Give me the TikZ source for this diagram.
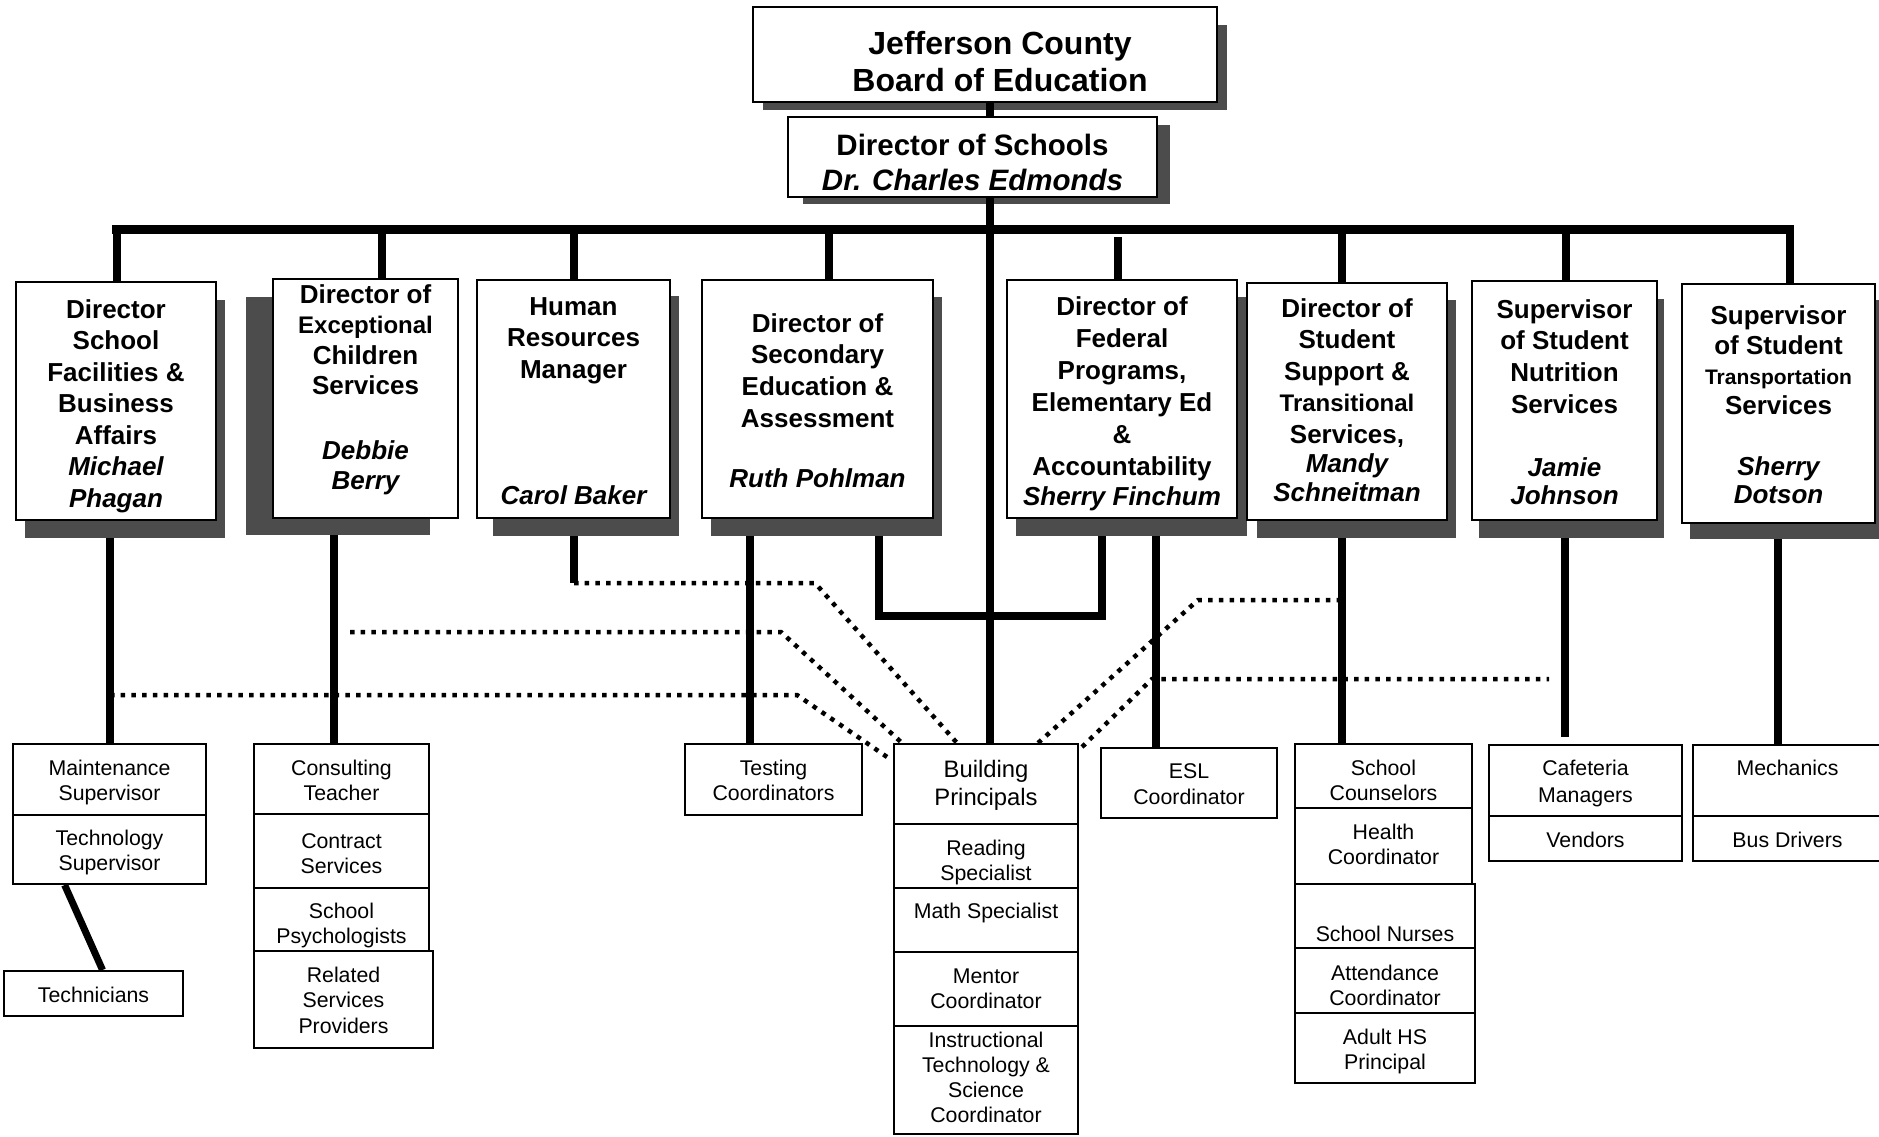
\documentclass[tikz,border=0pt]{standalone}
\usepackage{fontspec}
\setmainfont{Liberation Sans}
\usetikzlibrary{calc,fit}
\pgfdeclarelayer{back}
\pgfdeclarelayer{shade}
\pgfdeclarelayer{lines}
\pgfsetlayers{back,shade,lines,main}

\newcommand{\mlines}[1]{\vtop{\lineskiplimit=-100pt\relax\let\\\cr\halign{\hfil##\hfil\cr#1\crcr}}}
\newcommand{\fsz}[2]{\fontsize{#1}{#2}\selectfont}
\newcommand{\ebox}[5]{\node[box, fit={(#2,#3) (#4,#5)}] (#1) {};}

\tikzset{
  box/.style={draw=black, line width=2pt, fill=white, inner sep=0pt, rectangle},
  txt/.style={inner sep=0pt, anchor=base},
  conn/.style={line width=7.5pt},
  barline/.style={line width=8.5pt},
  dots/.style={line width=4.5pt, dash pattern=on 4.5pt off 6.2pt},
  shadowc/.style={fill=black!70},
  bot/.style={txt, font=\fsz{21.3}{25}},
}

\begin{document}
\begin{tikzpicture}[x=1pt,y=-1pt]
\begin{pgfonlayer}{back}
\fill[white] (0,0) rectangle (1879,1136);
\end{pgfonlayer}
\useasboundingbox (0,0) rectangle (1879,1136);

% ---------- shadows ----------
\begin{pgfonlayer}{shade}
\fill[shadowc] (763,25) rectangle (1227,110);
\fill[shadowc] (803,125) rectangle (1170,204);
\fill[shadowc] (25,300) rectangle (225,538);
\fill[shadowc] (246,297) rectangle (430,535);
\fill[shadowc] (493,296) rectangle (679,536);
\fill[shadowc] (711,297) rectangle (942,536);
\fill[shadowc] (1016,297) rectangle (1247,536);
\fill[shadowc] (1257,300) rectangle (1456,538);
\fill[shadowc] (1479,299) rectangle (1664,538);
\fill[shadowc] (1690,300) rectangle (1882,539);
\end{pgfonlayer}

% ---------- boxes ----------
\ebox{board}{753}{7}{1217}{102}
\ebox{dir}{788}{117}{1157}{197}
\ebox{b1}{16}{282}{216}{520}
\ebox{b2}{273}{279}{458}{518}
\ebox{b3}{477}{280}{670}{518}
\ebox{b4}{702}{280}{933}{518}
\ebox{b5}{1007}{280}{1237}{518}
\ebox{b6}{1247}{283}{1447}{520}
\ebox{b7}{1472}{281}{1657}{520}
\ebox{b8}{1682}{284}{1875}{523}

\ebox{mt}{13}{744}{206}{815}
\ebox{ts}{13}{815}{206}{884}
\ebox{tc}{4}{971}{183}{1016}
\ebox{ct}{254}{744}{429}{814}
\ebox{cs}{254}{814}{429}{888}
\ebox{sp}{254}{888}{429}{951}
\ebox{rs}{254}{951}{433}{1048}
\ebox{tco}{685}{744}{862}{815}
\ebox{bp}{894}{744}{1078}{824}
\ebox{rsp}{894}{824}{1078}{888}
\ebox{msp}{894}{888}{1078}{952}
\ebox{mco}{894}{952}{1078}{1026}
\ebox{itc}{894}{1026}{1078}{1134}
\ebox{esl}{1101}{748}{1277}{818}
\ebox{scn}{1295}{744}{1472}{808}
\ebox{hc}{1295}{808}{1472}{884}
\ebox{sn}{1295}{884}{1475}{948}
\ebox{ac}{1295}{948}{1475}{1013}
\ebox{ahs}{1295}{1013}{1475}{1083}
\ebox{cm}{1489}{745}{1682}{816}
\ebox{vd}{1489}{816}{1682}{861}
\ebox{mc}{1693}{745}{1884}{816}
\ebox{bd}{1693}{816}{1884}{861}

% ---------- texts ----------
\node[txt] (boardt) at (1000,54) {\fsz{32}{37.5}\bfseries\mlines{Jefferson County\\Board of Education}};
\node[txt] (dirt) at (972.5,155) {\fsz{29.5}{35}\bfseries\mlines{Director of Schools\\\itshape Dr. Charles Edmonds}};

\node[txt] (b1t) at (116,318) {\fsz{26}{31.5}\bfseries\mlines{Director\\School\\Facilities \&\\Business\\Affairs\\\itshape Michael\\\itshape Phagan}};
\node[txt] (b2t) at (365.5,303) {\fsz{26}{30.5}\bfseries\mlines{Director of\\{\fsz{24}{30.5}Exceptional}\\Children\\Services}};
\node[txt] (b2n) at (365.5,459) {\fsz{26}{30}\bfseries\itshape\mlines{Debbie\\Berry}};
\node[txt] (b3t) at (573.5,315) {\fsz{26}{31.5}\bfseries\mlines{Human\\Resources\\Manager}};
\node[txt] (b3n) at (573.5,504) {\fsz{26}{28}\bfseries\itshape Carol Baker};
\node[txt] (b4t) at (817.5,332) {\fsz{26}{31.9}\bfseries\mlines{Director of\\Secondary\\Education \&\\Assessment}};
\node[txt] (b4n) at (817.5,487) {\fsz{26}{28}\bfseries\itshape Ruth Pohlman};
\node[txt] (b5t) at (1122,315) {\fsz{26}{32.1}\bfseries\mlines{Director of\\Federal\\Programs,\\Elementary Ed\\\&\\Accountability}};
\node[txt] (b5n) at (1122,505) {\fsz{26}{28}\bfseries\itshape Sherry Finchum};
\node[txt] (b6t) at (1347,317) {\fsz{26}{31.5}\bfseries\mlines{Director of\\Student\\Support \&\\{\fsz{24}{31.5}Transitional}\\Services,}};
\node[txt] (b6n) at (1347,472) {\fsz{26}{29}\bfseries\itshape\mlines{Mandy\\Schneitman}};
\node[txt] (b7t) at (1564.5,318) {\fsz{26}{31.8}\bfseries\mlines{Supervisor\\of Student\\Nutrition\\Services}};
\node[txt] (b7n) at (1564.5,476) {\fsz{26}{28.5}\bfseries\itshape\mlines{Jamie\\Johnson}};
\node[txt] (b8t) at (1778.5,324) {\fsz{26}{30}\bfseries\mlines{Supervisor\\of Student\\{\fsz{21}{30}Transportation}\\Services}};
\node[txt] (b8n) at (1778.5,475) {\fsz{26}{28.5}\bfseries\itshape\mlines{Sherry\\Dotson}};

\node[bot] (mtt) at (109.5,775) {\mlines{Maintenance\\Supervisor}};
\node[bot] (tst) at (109.5,845) {\mlines{Technology\\Supervisor}};
\node[bot] (tct) at (93.5,1002) {Technicians};
\node[bot] (ctt) at (341.5,775) {\mlines{Consulting\\Teacher}};
\node[bot] (cst) at (341.5,848) {\mlines{Contract\\Services}};
\node[bot] (spt) at (341.5,918) {\mlines{School\\Psychologists}};
\node[bot] (rst) at (343.5,982) {\fsz{21.3}{25.5}\mlines{Related\\Services\\Providers}};
\node[bot] (tcot) at (773.5,775) {\mlines{Testing\\Coordinators}};
\node[bot] (bpt) at (986,777) {\fsz{23.8}{28}\mlines{Building\\Principals}};
\node[bot] (rspt) at (986,855) {\mlines{Reading\\Specialist}};
\node[bot] (mspt) at (986,918) {Math Specialist};
\node[bot] (mcot) at (986,983) {\mlines{Mentor\\Coordinator}};
\node[bot] (itct) at (986,1047) {\mlines{Instructional\\Technology \&\\Science\\Coordinator}};
\node[bot] (eslt) at (1189,778) {\fsz{21.3}{26}\mlines{ESL\\Coordinator}};
\node[bot] (scnt) at (1383.5,775) {\mlines{School\\Counselors}};
\node[bot] (hct) at (1383.5,839) {\mlines{Health\\Coordinator}};
\node[bot] (snt) at (1385,941) {School Nurses};
\node[bot] (act) at (1385,980) {\mlines{Attendance\\Coordinator}};
\node[bot] (ahst) at (1385,1044) {\mlines{Adult HS\\Principal}};
\node[bot] (cmt) at (1585.5,775) {\fsz{21.3}{27}\mlines{Cafeteria\\Managers}};
\node[bot] (vdt) at (1585.5,847) {Vendors};
\node[bot] (mct) at (1787.5,775) {Mechanics};
\node[bot] (bdt) at (1787.5,847) {Bus Drivers};

% ---------- connector coordinates ----------
\coordinate (barL) at (112,229.5);
\coordinate (barR) at (1794,229.5);
\coordinate (tr) at (990,229.5);
\coordinate (s1) at (117,229.5);
\coordinate (s2) at (382,229.5);
\coordinate (s3) at (574,229.5);
\coordinate (s4) at (829,229.5);
\coordinate (s5) at (1118,237);
\coordinate (s6) at (1342,229.5);
\coordinate (s7) at (1566,229.5);
\coordinate (s8) at (1790,229.5);
\coordinate (d1) at (110,538);
\coordinate (d2) at (334,535);
\coordinate (d3) at (574,536);
\coordinate (hrend) at (574,583);
\coordinate (d4a) at (750,536);
\coordinate (d4b) at (879,536);
\coordinate (ub) at (990,616);
\coordinate (d5a) at (1102,536);
\coordinate (d5b) at (1156,536);
\coordinate (d6) at (1342,538);
\coordinate (d7) at (1565,538);
\coordinate (d7e) at (1565,737);
\coordinate (d8) at (1778,539);
\coordinate (k1) at (815,583);
\coordinate (p2) at (350,632);
\coordinate (k2) at (781,632);
\coordinate (p3) at (110,695);
\coordinate (k3) at (797,695);
\coordinate (k4) at (1198,600);
\coordinate (e4) at (1338,600);
\coordinate (k5) at (1152,679);
\coordinate (e5) at (1549,679);

\begin{pgfonlayer}{lines}
\draw[barline] (barL) -- (barR);
\draw[conn] (tr |- board.south) -- (tr |- bp.north);
\draw[conn] (s1) -- (s1 |- b1.north);
\draw[conn] (s2) -- (s2 |- b2.north);
\draw[conn] (s3) -- (s3 |- b3.north);
\draw[conn] (s4) -- (s4 |- b4.north);
\draw[conn] (s5) -- (s5 |- b5.north);
\draw[conn] (s6) -- (s6 |- b6.north);
\draw[conn] (s7) -- (s7 |- b7.north);
\draw[conn] (s8) -- (s8 |- b8.north);

\draw[conn] (d1) -- (d1 |- mt.north);
\draw[conn] (d2) -- (d2 |- ct.north);
\draw[conn] (d3) -- (hrend);
\draw[conn] (d4a) -- (d4a |- tco.north);
\draw[conn] (d4b) -- (d4b |- ub) -- (d5a |- ub) -- (d5a);
\draw[conn] (d5b) -- (d5b |- esl.north);
\draw[conn] (d6) -- (d6 |- scn.north);
\draw[conn] (d7) -- (d7e);
\draw[conn] (d8) -- (d8 |- mc.north);
\draw[line width=7pt] ($(ts.south west)!0.27!(ts.south east)$) -- ($(tc.north west)!0.55!(tc.north east)$);

\draw[dots] (hrend) -- (k1) -- ($(bp.north west)+(64,0)$);
\draw[dots] (p2) -- (k2) -- ($(bp.north west)+(9,0)$);
\draw[dots] (p3) -- (k3) -- ($(bp.north west)+(-3,16)$);
\draw[dots] ($(bp.north west)+(145,0)$) -- (k4) -- (e4);
\draw[dots] ($(bp.north east)+(3,4)$) -- (k5) -- (e5);
\end{pgfonlayer}
\end{tikzpicture}
\end{document}
